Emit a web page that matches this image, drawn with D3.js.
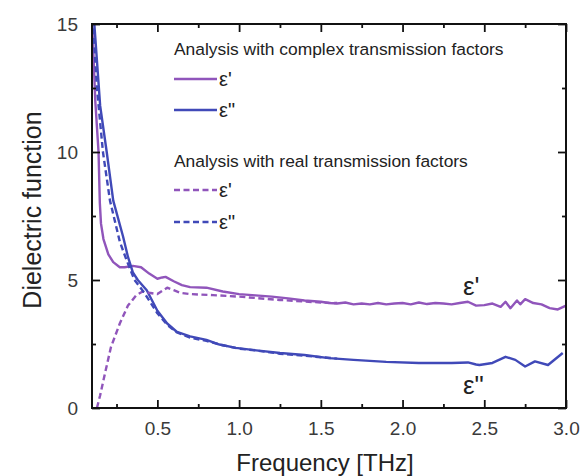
<!DOCTYPE html>
<html><head><meta charset="utf-8">
<script src="https://cdn.jsdelivr.net/npm/d3@7"></script>
<style>
body{margin:0;background:#fff;}
svg{display:block;font-family:"Liberation Sans",Arial,sans-serif;}
</style></head>
<body><svg id="c" width="587" height="476"></svg>
<script>
// ---- data ----
const xTicks = [0.5, 1.0, 1.5, 2.0, 2.5, 3.0];
const xTickLabels = ["0.5", "1.0", "1.5", "2.0", "2.5", "3.0"];
const yTicks = [0, 5, 10, 15];
const yTickLabels = ["0", "5", "10", "15"];

// complex transmission: epsilon'
const cEps1X = [0.1,0.12,0.14,0.148,0.155,0.17,0.2,0.23,0.27,0.3,0.35,0.4,0.45,0.5,0.53,0.55,0.6,0.65,0.7,0.8,0.9,1.0,1.1,1.2,1.3,1.4,1.5,1.55,1.6,1.65,1.7,1.75,1.8,1.85,1.9,1.95,2.0,2.05,2.1,2.15,2.2,2.25,2.3,2.35,2.4,2.45,2.5,2.55,2.6,2.63,2.66,2.7,2.72,2.75,2.8,2.85,2.9,2.95,3.0];
const cEps1Y = [15.2,12.0,10.0,8.0,7.2,6.6,6.0,5.7,5.5,5.5,5.55,5.5,5.25,5.05,5.1,5.12,4.95,4.8,4.72,4.7,4.55,4.45,4.4,4.35,4.28,4.2,4.15,4.1,4.08,4.12,4.05,4.08,4.05,4.1,4.05,4.08,4.1,4.05,4.12,4.06,4.1,4.08,4.05,4.1,4.15,4.0,4.02,4.08,3.95,4.15,3.9,4.2,4.05,4.25,4.1,4.05,3.9,3.85,4.0];

// complex transmission: epsilon''
const cEps2X = [0.112,0.15,0.19,0.23,0.29,0.32,0.35,0.38,0.435,0.5,0.56,0.62,0.7,0.8,0.88,0.98,1.08,1.25,1.4,1.55,1.7,1.9,2.1,2.3,2.4,2.45,2.47,2.55,2.63,2.69,2.75,2.81,2.89,2.98];
const cEps2Y = [15.2,11.8,10.0,8.1,6.7,5.9,5.3,5.0,4.6,3.8,3.3,2.97,2.8,2.66,2.48,2.35,2.27,2.15,2.07,1.95,1.88,1.8,1.76,1.76,1.78,1.7,1.68,1.76,2.0,1.88,1.62,1.82,1.68,2.15];

// real transmission: epsilon'
const rEps1X = [0.13,0.15,0.18,0.216,0.27,0.32,0.37,0.41,0.45,0.5,0.56,0.6,0.64,0.7,0.84,1.0,1.25,1.5,1.6];
const rEps1Y = [0,0.5,1.37,2.38,3.3,4.0,4.4,4.55,4.5,4.45,4.7,4.6,4.5,4.45,4.41,4.35,4.22,4.12,4.1];

// real transmission: epsilon''
const rEps2X = [0.104,0.13,0.167,0.21,0.27,0.31,0.36,0.42,0.5,0.56,0.62,0.7,0.8,0.9,1.0,1.1,1.25,1.4,1.6];
const rEps2Y = [15.2,12.5,10.0,8.1,6.5,5.8,5.0,4.5,3.7,3.25,2.95,2.75,2.62,2.45,2.32,2.25,2.12,2.04,1.93];

// ---- drawing ----
const purple = "#9055bb", blue = "#4049b8";
const svg = d3.select("#c");
const L = 92, R = 566, T = 24, B = 408;
const x = d3.scaleLinear().domain([0.1, 3.0]).range([L, R]);
const y = d3.scaleLinear().domain([0, 15]).range([B, T]);

svg.append("defs").append("clipPath").attr("id","clip")
  .append("rect").attr("x",L).attr("y",T).attr("width",R-L).attr("height",B-T);

const line = d3.line().x(d=>x(d[0])).y(d=>y(d[1]));
const zip = (a,b)=>a.map((v,i)=>[v,b[i]]);
const g = svg.append("g").attr("clip-path","url(#clip)");
function draw(xs, ys, color, dash){
  g.append("path").datum(zip(xs,ys)).attr("d",line)
   .attr("fill","none").attr("stroke",color).attr("stroke-width",2.4)
   .attr("stroke-linejoin","round")
   .attr("stroke-dasharray", dash ? "6,3.5" : null);
}
draw(cEps1X, cEps1Y, purple, false);
draw(cEps2X, cEps2Y, blue, false);
draw(rEps1X, rEps1Y, purple, true);
draw(rEps2X, rEps2Y, blue, true);

// axes (box with inward ticks)
const xMinor = [0.25,0.75,1.25,1.75,2.25,2.75];
const yMinor = [2.5,7.5,12.5];
const axB = d3.axisBottom(x).tickValues(xTicks).tickSizeInner(-8).tickSizeOuter(0).tickFormat((d,i)=>xTickLabels[i]).tickPadding(14);
svg.append("g").attr("transform",`translate(0,${B})`).call(axB);
const axL = d3.axisLeft(y).tickValues(yTicks).tickSizeInner(-8).tickSizeOuter(0).tickFormat((d,i)=>yTickLabels[i]).tickPadding(14);
svg.append("g").attr("transform",`translate(${L},0)`).call(axL);
const axT = d3.axisTop(x).tickValues(xTicks).tickSizeInner(-8).tickSizeOuter(0).tickFormat("");
svg.append("g").attr("transform",`translate(0,${T})`).call(axT);
const axR = d3.axisRight(y).tickValues(yTicks).tickSizeInner(-8).tickSizeOuter(0).tickFormat("");
svg.append("g").attr("transform",`translate(${R},0)`).call(axR);
// minor ticks
svg.append("g").attr("transform",`translate(0,${B})`).call(d3.axisBottom(x).tickValues(xMinor).tickSizeInner(-4).tickSizeOuter(0).tickFormat(""));
svg.append("g").attr("transform",`translate(0,${T})`).call(d3.axisTop(x).tickValues(xMinor).tickSizeInner(-4).tickSizeOuter(0).tickFormat(""));
svg.append("g").attr("transform",`translate(${L},0)`).call(d3.axisLeft(y).tickValues(yMinor).tickSizeInner(-4).tickSizeOuter(0).tickFormat(""));
svg.append("g").attr("transform",`translate(${R},0)`).call(d3.axisRight(y).tickValues(yMinor).tickSizeInner(-4).tickSizeOuter(0).tickFormat(""));

svg.selectAll(".domain").remove();
svg.selectAll(".tick line").attr("stroke","#111").attr("stroke-width",1.8);
svg.selectAll(".tick text").attr("font-size",19).attr("fill","#3a3a3a").attr("font-family","Liberation Sans, Arial, sans-serif");
svg.append("rect").attr("x",L).attr("y",T).attr("width",R-L).attr("height",B-T)
  .attr("fill","none").attr("stroke","#111").attr("stroke-width",2);

// axis titles
svg.append("text").attr("x",(L+R)/2-4).attr("y",471).attr("text-anchor","middle")
  .attr("font-size",24).attr("fill","#222").text("Frequency [THz]");
svg.append("text").attr("transform","translate(41,210) rotate(-90)").attr("text-anchor","middle")
  .attr("font-size",25).attr("fill","#222").text("Dielectric function");

// legend
const lg = svg.append("g").attr("fill","#222");
lg.append("text").attr("x",174).attr("y",55).attr("font-size",17.4).text("Analysis with complex transmission factors");
lg.append("text").attr("x",174).attr("y",167).attr("font-size",17.4).text("Analysis with real transmission factors");
const items = [
  {y:79, c:purple, d:false, t:"ε'"},
  {y:110, c:blue, d:false, t:"ε\""},
  {y:190, c:purple, d:true, t:"ε'"},
  {y:222, c:blue, d:true, t:"ε\""}
];
items.forEach(it=>{
  lg.append("line").attr("x1",174).attr("x2",217).attr("y1",it.y).attr("y2",it.y)
    .attr("stroke",it.c).attr("stroke-width",2.4).attr("stroke-dasharray",it.d?"6,3.5":null);
  lg.append("text").attr("x",219).attr("y",it.y+7).attr("font-size",20).text(it.t);
});

// curve annotations
svg.append("text").attr("x",463).attr("y",295).attr("font-size",26).attr("fill","#222").text("ε'");
svg.append("text").attr("x",463).attr("y",394).attr("font-size",26).attr("fill","#222").text("ε\"");
</script></body></html>
